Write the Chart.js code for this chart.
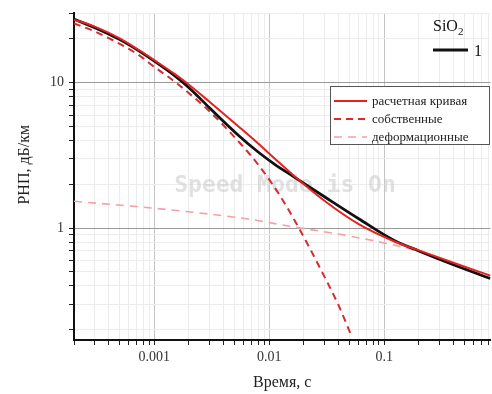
<!DOCTYPE html>
<html lang="ru">
<head>
  <meta charset="UTF-8">
  <title>РНП SiO2</title>
  <script src="https://cdn.jsdelivr.net/npm/chart.js"></script>
  <style>
    body { margin: 0; background: #fff; }
    canvas { display: block; }
  </style>
</head>
<body>
  <canvas id="graphique" width="492" height="394"></canvas>

  <script>
    // измерение (кривая 1)
    const measX = [0.0002, 0.0003, 0.0005, 0.00075, 0.001, 0.0015, 0.002, 0.003, 0.0055, 0.008, 0.011, 0.016, 0.03, 0.06, 0.12, 0.2, 0.4, 0.84];
    const measY = [27.4, 24.0, 19.8, 16.4, 14.1, 11.2, 9.25, 6.76, 4.29, 3.34, 2.77, 2.28, 1.65, 1.16, 0.829, 0.697, 0.560, 0.450];

    // расчетная кривая
    const calcX = [0.0002, 0.0003, 0.0005, 0.00075, 0.001, 0.0015, 0.002, 0.003, 0.0055, 0.008, 0.011, 0.016, 0.03, 0.06, 0.12, 0.2, 0.4, 0.84];
    const calcY = [27.2, 24.4, 20.2, 16.6, 14.3, 11.5, 9.69, 7.43, 4.94, 3.82, 3.04, 2.33, 1.55, 1.065, 0.816, 0.703, 0.578, 0.471];

    // собственные
    const ownX = [0.0002, 0.0003, 0.0005, 0.00075, 0.001, 0.0015, 0.002, 0.003, 0.0055, 0.008, 0.012, 0.018, 0.027, 0.04, 0.052];
    const ownY = [25.6, 22.6, 18.5, 15.3, 12.85, 10.2, 8.47, 6.40, 3.88, 2.74, 1.74, 1.01, 0.551, 0.295, 0.181];

    // деформационные
    const defX = [0.0002, 0.001, 0.0068, 0.015, 0.04, 0.11, 0.2, 0.4, 0.84];
    const defY = [1.53, 1.37, 1.15, 1.03, 0.91, 0.778, 0.692, 0.573, 0.468];

    const xMajor = [0.001, 0.01, 0.1];
    const yMajor = [1, 10];
    const xRange = [0.0002, 0.84];
    const yRange = [0.17, 30];

    const FONT = "'Liberation Serif', 'Times New Roman', serif";

    function pts(xs, ys) {
      return xs.map((x, i) => ({ x: x, y: ys[i] }));
    }

    // деления 1..9 x 10^n внутри диапазона
    function logTicks(min, max) {
      const out = [];
      for (let e = Math.floor(Math.log10(min)); e <= Math.ceil(Math.log10(max)); e++) {
        for (let m = 1; m <= 9; m++) {
          const v = +(m * Math.pow(10, e)).toPrecision(6);
          if (v >= min * 0.999 && v <= max * 1.001) out.push({ value: v });
        }
      }
      return out;
    }

    function isMajor(list, v) {
      return list.some(m => Math.abs(m - v) / m < 1e-6);
    }

    const overlay = {
      id: 'overlay',
      beforeDatasetsDraw(chart) {
        const c = chart.ctx;
        c.save();
        c.font = "bold 23px 'DejaVu Sans Mono', monospace";
        c.fillStyle = 'rgba(200,200,200,0.55)';
        c.textAlign = 'center';
        c.textBaseline = 'middle';
        c.fillText('Speed Mode is On', 285, 186);
        c.restore();
      },
      afterDatasetsDraw(chart) {
        const c = chart.ctx;
        const ds = chart.data.datasets;
        c.save();

        // SiO2 + кривая 1
        c.fillStyle = '#111';
        c.textBaseline = 'alphabetic';
        c.font = '16px ' + FONT;
        c.fillText('SiO', 433, 31);
        const w = c.measureText('SiO').width;
        c.font = '11px ' + FONT;
        c.fillText('2', 433 + w, 35);
        c.strokeStyle = ds[0].borderColor;
        c.lineWidth = 3;
        c.beginPath();
        c.moveTo(433, 50);
        c.lineTo(468, 50);
        c.stroke();
        c.font = '16px ' + FONT;
        c.fillText(ds[0].label, 474, 56);

        // рамка легенды
        const bx = 330, by = 86, bw = 159, bh = 58;
        c.fillStyle = '#fff';
        c.fillRect(bx, by, bw, bh);
        c.strokeStyle = '#555';
        c.lineWidth = 1;
        c.strokeRect(bx + 0.5, by + 0.5, bw, bh);

        c.font = '13px ' + FONT;
        c.textBaseline = 'middle';
        [1, 2, 3].forEach((k, i) => {
          const d = ds[k];
          const y = 101 + i * 18;
          c.strokeStyle = d.borderColor;
          c.lineWidth = d.borderWidth;
          c.setLineDash(d.borderDash || []);
          c.beginPath();
          c.moveTo(334, y);
          c.lineTo(367, y);
          c.stroke();
          c.setLineDash([]);
          c.fillStyle = '#222';
          c.fillText(d.label, 372, y + 1);
        });
        c.restore();
      }
    };

    const ctx = document.getElementById("graphique").getContext("2d");
    new Chart(ctx, {
      type: 'line',
      data: {
        datasets: [
          {
            label: '1',
            data: pts(measX, measY),
            borderColor: '#111111',
            borderWidth: 2.8,
            pointRadius: 0,
            cubicInterpolationMode: 'monotone',
            order: 2
          },
          {
            label: 'расчетная кривая',
            data: pts(calcX, calcY),
            borderColor: '#e42222',
            borderWidth: 2,
            pointRadius: 0,
            cubicInterpolationMode: 'monotone',
            order: 1
          },
          {
            label: 'собственные',
            data: pts(ownX, ownY),
            borderColor: '#d62b30',
            borderWidth: 2,
            borderDash: [7, 5],
            pointRadius: 0,
            cubicInterpolationMode: 'monotone',
            order: 3
          },
          {
            label: 'деформационные',
            data: pts(defX, defY),
            borderColor: '#f4a0a4',
            borderWidth: 1.6,
            borderDash: [8, 6],
            pointRadius: 0,
            cubicInterpolationMode: 'monotone',
            order: 4
          }
        ]
      },
      options: {
        responsive: false,
        animation: false,
        devicePixelRatio: 1,
        layout: { padding: { top: 10, right: 0, left: 0, bottom: 0 } },
        plugins: {
          legend: { display: false },
          tooltip: { enabled: false }
        },
        scales: {
          x: {
            type: 'logarithmic',
            min: xRange[0],
            max: xRange[1],
            afterBuildTicks: s => { s.ticks = logTicks(xRange[0], xRange[1]); },
            afterFit: s => { s.height = 54; },
            border: { color: '#111', width: 2 },
            grid: {
              color: c => isMajor(xMajor, c.tick.value) ? '#c4c4c4' : '#ececec',
              tickColor: '#222',
              tickLength: 5,
              lineWidth: 1
            },
            ticks: {
              autoSkip: false,
              maxRotation: 0,
              padding: 4,
              color: '#333',
              font: { family: FONT, size: 14 },
              callback: v => isMajor(xMajor, v) ? String(v) : ''
            },
            title: {
              display: true,
              text: 'Время, с',
              color: '#222',
              font: { family: FONT, size: 16 },
              padding: { top: 0, bottom: 2 }
            }
          },
          y: {
            type: 'logarithmic',
            min: yRange[0],
            max: yRange[1],
            afterBuildTicks: s => { s.ticks = logTicks(yRange[0], yRange[1]); },
            afterFit: s => { s.width = 74; },
            border: { color: '#111', width: 2 },
            grid: {
              color: c => isMajor(yMajor, c.tick.value) ? '#9a9a9a' : '#ececec',
              tickColor: '#222',
              tickLength: 5,
              lineWidth: 1
            },
            ticks: {
              autoSkip: false,
              padding: 5,
              color: '#333',
              font: { family: FONT, size: 14 },
              callback: v => isMajor(yMajor, v) ? String(v) : ''
            },
            title: {
              display: true,
              text: '\u00a0\u00a0\u00a0\u00a0\u00a0\u00a0РНП, дБ/км',
              color: '#222',
              font: { family: FONT, size: 16 },
              padding: { top: 15, bottom: 0 }
            }
          }
        }
      },
      plugins: [overlay]
    });
  </script>
</body>
</html>
